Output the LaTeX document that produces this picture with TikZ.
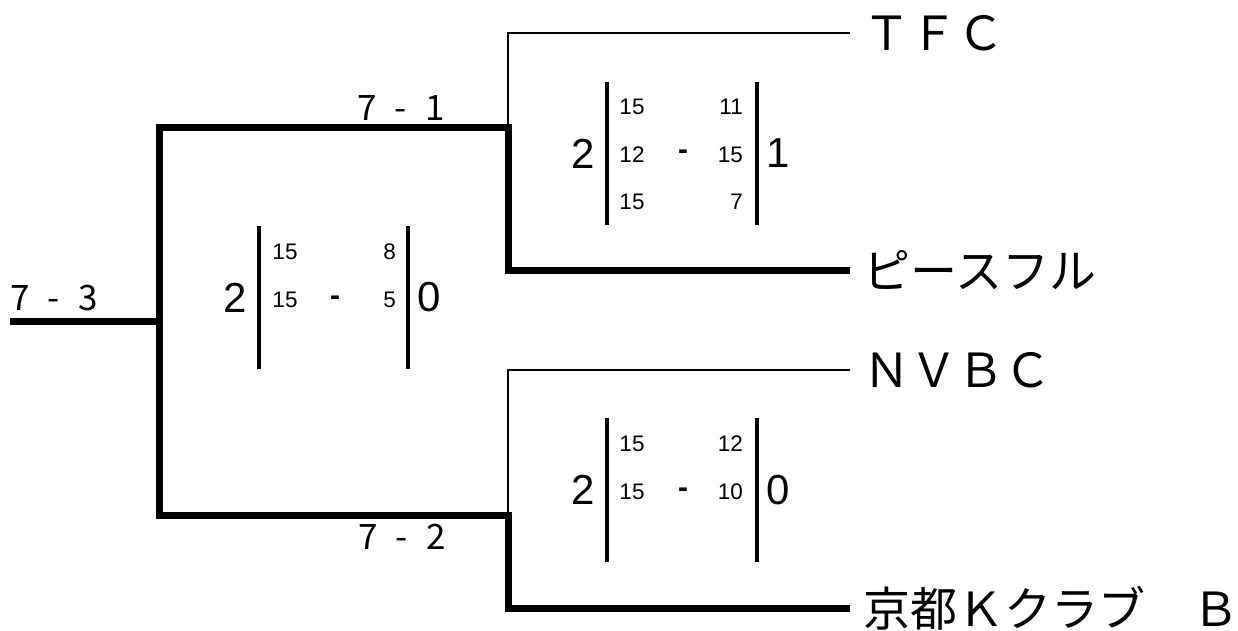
\documentclass[tikz,border=0pt]{standalone}
\usepackage{fontspec}
\setmainfont{Liberation Sans}
\newfontfamily\jpfont{Noto Sans CJK JP}
\usetikzlibrary{calc}

\begin{document}
\begin{tikzpicture}[x=1pt,y=-1pt,
    win/.style={line width=7pt},
    lose/.style={line width=2pt},
    bar/.style={line width=4pt},
    team/.style={anchor=west,inner xsep=13.5pt,inner ysep=0pt,font=\jpfont\fontsize{47}{47}\selectfont},
    round/.style={inner sep=0pt,font=\jpfont\fontsize{35}{35}\selectfont},
    setwon/.style={inner sep=0pt,font=\fontsize{42}{42}\selectfont},
    points/.style={inner sep=0pt,font=\fontsize{22.5}{22.5}\selectfont},
    dash sign/.style={inner sep=0pt,font=\bfseries\fontsize{30}{30}\selectfont}]
  \useasboundingbox (0,0) rectangle (1238,630);

  %% Corners of the bracket
  \coordinate (START) at (10,321);
  \coordinate (SM) at (159,321);
  \coordinate (ST) at (159,127);
  \coordinate (SB) at (159,515);
  \coordinate (FT) at (508,127);
  \coordinate (FB) at (508,515);
  \coordinate (TFCc) at (508,33);
  \coordinate (PEACEc) at (508,270);
  \coordinate (NVBCc) at (508,370);
  \coordinate (KYOTOc) at (508,608);

  %% Team names
  \node[team] (TFC) at (850,33) {ＴＦＣ};
  \node[team] (PEACE) at (850,270) {ピースフル};
  \node[team] (NVBC) at (850,370) {ＮＶＢＣ};
  \node[team] (KYOTO) at (850,608) {京都Ｋクラブ　Ｂ};

  %% Lines of the bracket
  \draw[win] (START) -- (SM);
  \draw[win] (PEACE.west) -- (PEACEc) -- (FT) -- (ST) -- (SB) -- (FB) -- (KYOTOc) -- (KYOTO.west);
  \draw[lose] (TFC.west) -- (TFCc) -- (FT);
  \draw[lose] (NVBC.west) -- (NVBCc) -- (FB);

  %% Round labels
  \node[round] (R3) at (54,298) {7\hspace{18pt}-\hspace{18pt}3};
  \node[round] (R1) at (401,108) {7\hspace{18pt}-\hspace{18pt}1};
  \node[round] (R2) at (402,537) {7\hspace{18pt}-\hspace{18pt}2};

  %% Score boxes: bars and sets won
  \foreach \b/\l/\r/\t/\d/\w/\v in {T/607/757/82/225/2/1, M/259/408/226/369/2/0, B/607/757/418/562/2/0}
  {
    \coordinate (\b LT) at (\l,\t);
    \coordinate (\b LB) at (\l,\d);
    \coordinate (\b RT) at (\r,\t);
    \coordinate (\b RB) at (\r,\d);
    \draw[bar] (\b LT) -- (\b LB);
    \draw[bar] (\b RT) -- (\b RB);
    \node[setwon] (\b W) at ($(\b LT)!0.5!(\b LB)+(-24,0)$) {\w};
    \node[setwon] (\b V) at ($(\b RT)!0.5!(\b RB)+(21,0)$) {\v};
  }

  %% Points of each set
  \foreach \x/\y/\p/\q in {632/107/15/11, 632/155/12/15, 632/202/15/7,
                           285/252/15/8, 285/300/15/5,
                           632/444/15/12, 632/492/15/10}
  {
    \node[points] at (\x,\y) {\p};
    \node[points,anchor=east] at (\x+111,\y) {\q};
  }
  \node[dash sign] (DT) at (683,155) {-};
  \node[dash sign] (DM) at (335,301) {-};
  \node[dash sign] (DB) at (683,493) {-};
\end{tikzpicture}
\end{document}
